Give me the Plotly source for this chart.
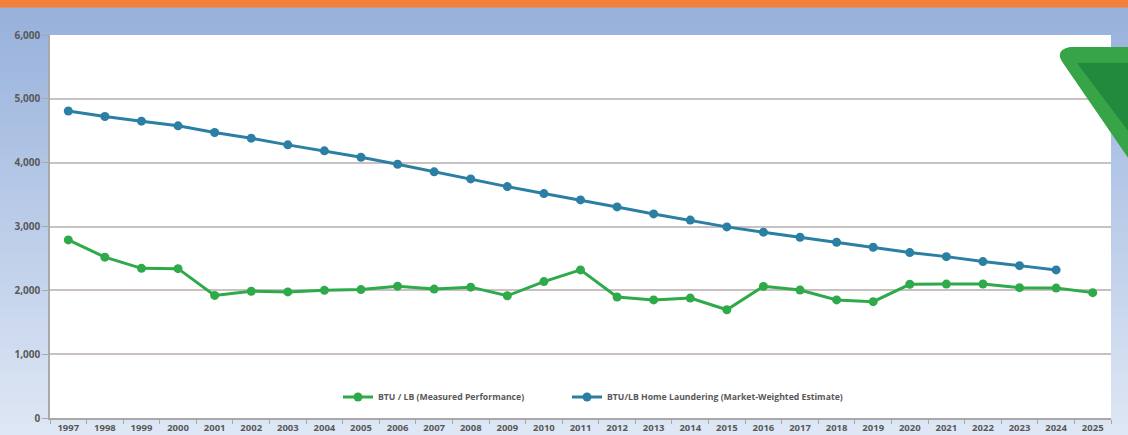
import plotly.graph_objects as go

years = [str(y) for y in range(1997, 2026)]
measured = [2790, 2520, 2345, 2340, 1920, 1985, 1975, 2000, 2012, 2065, 2020,
            2050, 1915, 2137, 2320, 1895, 1850, 1878, 1695, 2062, 2006, 1850,
            1823, 2095, 2098, 2100, 2042, 2035, 1964]
estimate = [4810, 4723, 4650, 4577, 4472, 4384, 4279, 4185, 4085, 3976, 3856,
            3746, 3625, 3516, 3417, 3307, 3197, 3100, 2994, 2911, 2832, 2754,
            2675, 2591, 2528, 2450, 2387, 2320]
name_measured = "BTU / LB (Measured Performance)"
name_estimate = "BTU/LB Home Laundering (Market-Weighted Estimate)"
y_ticks = [0, 1000, 2000, 3000, 4000, 5000, 6000]

W, H = 1128, 435
L, R, T, B = 50, 17, 35, 17
PW, PH = W - L - R, H - T - B


def px(x):
    return (x - L) / PW


def py(y):
    return (H - B - y) / PH


fig = go.Figure()
fig.add_trace(go.Scatter(
    x=years, y=measured, name=name_measured, mode="lines+markers",
    line=dict(color="#2eaa4a", width=3), marker=dict(size=9, color="#2eaa4a"),
    legend="legend"))
fig.add_trace(go.Scatter(
    x=years[:len(estimate)], y=estimate, name=name_estimate, mode="lines+markers",
    line=dict(color="#2a7fa3", width=3), marker=dict(size=9, color="#2a7fa3"),
    legend="legend2"))

shapes = []
# background gradient
n = 40
top_c = (152, 178, 220)
bot_c = (222, 231, 245)
for i in range(n):
    t = i / (n - 1)
    c = tuple(int(top_c[k] + (bot_c[k] - top_c[k]) * t) for k in range(3))
    y0 = 7 + (H - 7) * i / n
    y1 = 7 + (H - 7) * (i + 1) / n + 1
    shapes.append(dict(type="rect", xref="paper", yref="paper",
                       x0=px(0), x1=px(W), y0=py(y1), y1=py(y0),
                       fillcolor="rgb(%d,%d,%d)" % c, line=dict(width=0),
                       layer="below"))
# orange top band
shapes.append(dict(type="rect", xref="paper", yref="paper",
                   x0=px(0), x1=px(W), y0=py(7.5), y1=py(0),
                   fillcolor="#f4813a", line=dict(width=0), layer="below"))
# white plot area
shapes.append(dict(type="rect", xref="paper", yref="paper",
                   x0=0, x1=1, y0=0, y1=1,
                   fillcolor="white", line=dict(width=0), layer="below"))


def pth(pts):
    s = ""
    for i, p in enumerate(pts):
        if p[0] == "Q":
            s += " Q %f,%f %f,%f" % (px(p[1]), py(p[2]), px(p[3]), py(p[4]))
        else:
            s += ("M" if i == 0 else " L") + " %f,%f" % (px(p[0]), py(p[1]))
    return s + " Z"


outer = pth([(1070, 47), (1135, 47), (1135, 168), (1063, 63),
             ("Q", 1054, 50, 1070, 47)])
inner = pth([(1077, 63), (1135, 63), (1135, 140)])
shapes.append(dict(type="path", xref="paper", yref="paper", path=outer,
                   fillcolor="#36a447", line=dict(width=0), layer="above"))
shapes.append(dict(type="path", xref="paper", yref="paper", path=inner,
                   fillcolor="#228a3d", line=dict(width=0), layer="above"))

leg_font = dict(size=8.7, color="#595959", weight="bold")
fig.update_layout(
    width=W, height=H, autosize=False,
    margin=dict(l=L, r=R, t=T, b=B, autoexpand=False),
    paper_bgcolor="#b6c8e6",
    plot_bgcolor="white",
    shapes=shapes,
    font=dict(family="Open Sans", color="#595959"),
    showlegend=True,
    legend=dict(orientation="h", x=px(338), xanchor="left", y=py(397),
                yanchor="middle", bgcolor="rgba(0,0,0,0)", font=leg_font,
                itemwidth=30),
    legend2=dict(orientation="h", x=px(567), xanchor="left", y=py(397),
                 yanchor="middle", bgcolor="rgba(0,0,0,0)", font=leg_font,
                 itemwidth=30),
    xaxis=dict(type="category", range=[-0.5, 28.5], showgrid=False,
               automargin=False,
               showline=True, linecolor="#a8a8a8", linewidth=1.5,
               ticks="outside", ticklen=4, tickcolor="#a8a8a8",
               tickson="boundaries", ticklabelstandoff=0,
               tickfont=dict(size=9.5, color="#595959", weight="bold")),
    yaxis=dict(range=[0, 6000], tickvals=y_ticks, tickformat=",d",
               automargin=False,
               showgrid=True, gridcolor="#c9c1c1", gridwidth=1.5,
               showline=True, linecolor="#a8a8a8", linewidth=1.5,
               ticks="outside", ticklen=6, tickcolor="#a8a8a8",
               zeroline=False,
               tickfont=dict(size=10, color="#595959", weight="bold")),
)

fig.write_html("out.html",
               config={"displayModeBar": False, "responsive": False},
               post_script="document.body.style.margin='0';"
                           "document.body.style.overflow='hidden';")
